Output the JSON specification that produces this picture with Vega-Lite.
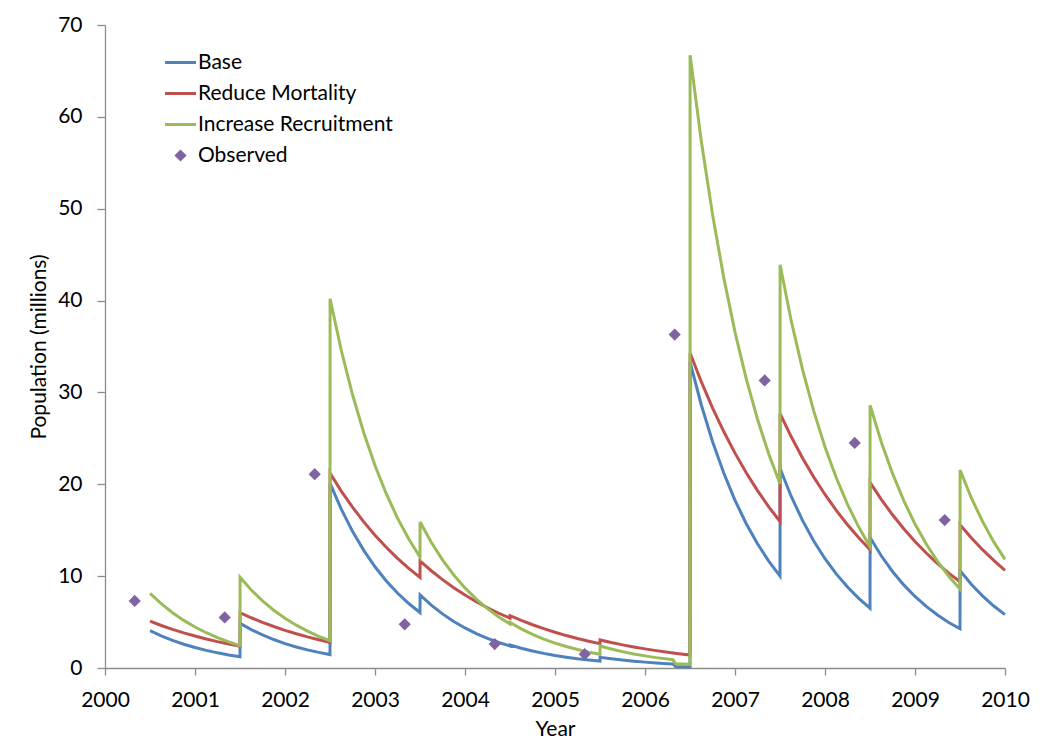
{
  "$schema": "https://vega.github.io/schema/vega-lite/v6.json",
  "width": 900,
  "height": 643,
  "autosize": "none",
  "padding": {"left": 105, "top": 25, "right": 35, "bottom": 73},
  "background": "white",
  "config": {
    "view": {"stroke": null},
    "font": "Lato",
    "axis": {"grid": false, "domainColor": "#8c8c8c", "tickColor": "#8c8c8c", "domainWidth": 1.3, "tickWidth": 1.3,
      "labelFont": "Lato", "labelFontSize": 21, "labelColor": "#000000", "titleFont": "Lato", "titleFontSize": 21, "titleFontWeight": "normal", "titleColor": "#000000"}
  },
  "datasets": {
    "model": [
      {"series":"Base","year":2000.5,"pop":4.07},{"series":"Base","year":2000.625,"pop":3.50},{"series":"Base","year":2000.75,"pop":3.01},{"series":"Base","year":2000.875,"pop":2.59},{"series":"Base","year":2001,"pop":2.23},{"series":"Base","year":2001.125,"pop":1.92},{"series":"Base","year":2001.25,"pop":1.65},{"series":"Base","year":2001.375,"pop":1.42},{"series":"Base","year":2001.5,"pop":1.22},
      {"series":"Base","year":2001.501,"pop":4.86},{"series":"Base","year":2001.625,"pop":4.18},{"series":"Base","year":2001.75,"pop":3.60},{"series":"Base","year":2001.875,"pop":3.10},{"series":"Base","year":2002,"pop":2.66},{"series":"Base","year":2002.125,"pop":2.29},{"series":"Base","year":2002.25,"pop":1.97},{"series":"Base","year":2002.375,"pop":1.70},{"series":"Base","year":2002.5,"pop":1.46},
      {"series":"Base","year":2002.501,"pop":20.1},{"series":"Base","year":2002.625,"pop":17.30},{"series":"Base","year":2002.75,"pop":14.88},{"series":"Base","year":2002.875,"pop":12.81},{"series":"Base","year":2003,"pop":11.02},{"series":"Base","year":2003.125,"pop":9.48},{"series":"Base","year":2003.25,"pop":8.16},{"series":"Base","year":2003.375,"pop":7.02},{"series":"Base","year":2003.5,"pop":6.04},
      {"series":"Base","year":2003.501,"pop":7.95},{"series":"Base","year":2003.625,"pop":6.84},{"series":"Base","year":2003.75,"pop":5.89},{"series":"Base","year":2003.875,"pop":5.07},{"series":"Base","year":2004,"pop":4.36},{"series":"Base","year":2004.125,"pop":3.75},{"series":"Base","year":2004.25,"pop":3.23},{"series":"Base","year":2004.375,"pop":2.78},{"series":"Base","year":2004.5,"pop":2.39},
      {"series":"Base","year":2004.501,"pop":2.5},{"series":"Base","year":2004.625,"pop":2.15},{"series":"Base","year":2004.75,"pop":1.85},{"series":"Base","year":2004.875,"pop":1.59},{"series":"Base","year":2005,"pop":1.37},{"series":"Base","year":2005.125,"pop":1.18},{"series":"Base","year":2005.25,"pop":1.01},{"series":"Base","year":2005.375,"pop":0.87},{"series":"Base","year":2005.5,"pop":0.75},
      {"series":"Base","year":2005.501,"pop":1.16},{"series":"Base","year":2005.625,"pop":1.00},{"series":"Base","year":2005.75,"pop":0.86},{"series":"Base","year":2005.875,"pop":0.74},{"series":"Base","year":2006,"pop":0.64},{"series":"Base","year":2006.125,"pop":0.55},{"series":"Base","year":2006.25,"pop":0.47},{"series":"Base","year":2006.31,"pop":0.44},{"series":"Base","year":2006.34,"pop":0.15},{"series":"Base","year":2006.5,"pop":0.12},
      {"series":"Base","year":2006.501,"pop":33.3},{"series":"Base","year":2006.625,"pop":28.66},{"series":"Base","year":2006.75,"pop":24.66},{"series":"Base","year":2006.875,"pop":21.22},{"series":"Base","year":2007,"pop":18.26},{"series":"Base","year":2007.125,"pop":15.71},{"series":"Base","year":2007.25,"pop":13.52},{"series":"Base","year":2007.375,"pop":11.63},{"series":"Base","year":2007.5,"pop":10.01},
      {"series":"Base","year":2007.501,"pop":21.7},{"series":"Base","year":2007.625,"pop":18.67},{"series":"Base","year":2007.75,"pop":16.07},{"series":"Base","year":2007.875,"pop":13.83},{"series":"Base","year":2008,"pop":11.90},{"series":"Base","year":2008.125,"pop":10.24},{"series":"Base","year":2008.25,"pop":8.81},{"series":"Base","year":2008.375,"pop":7.58},{"series":"Base","year":2008.5,"pop":6.52},
      {"series":"Base","year":2008.501,"pop":14.2},{"series":"Base","year":2008.625,"pop":12.22},{"series":"Base","year":2008.75,"pop":10.51},{"series":"Base","year":2008.875,"pop":9.05},{"series":"Base","year":2009,"pop":7.79},{"series":"Base","year":2009.125,"pop":6.70},{"series":"Base","year":2009.25,"pop":5.77},{"series":"Base","year":2009.375,"pop":4.96},{"series":"Base","year":2009.5,"pop":4.27},
      {"series":"Base","year":2009.501,"pop":10.6},{"series":"Base","year":2009.625,"pop":9.12},{"series":"Base","year":2009.75,"pop":7.85},{"series":"Base","year":2009.875,"pop":6.75},{"series":"Base","year":2010,"pop":5.81},

      {"series":"Reduce Mortality","year":2000.5,"pop":5.1},{"series":"Reduce Mortality","year":2000.625,"pop":4.63},{"series":"Reduce Mortality","year":2000.75,"pop":4.21},{"series":"Reduce Mortality","year":2000.875,"pop":3.83},{"series":"Reduce Mortality","year":2001,"pop":3.48},{"series":"Reduce Mortality","year":2001.125,"pop":3.16},{"series":"Reduce Mortality","year":2001.25,"pop":2.87},{"series":"Reduce Mortality","year":2001.375,"pop":2.61},{"series":"Reduce Mortality","year":2001.5,"pop":2.37},
      {"series":"Reduce Mortality","year":2001.501,"pop":6.02},{"series":"Reduce Mortality","year":2001.625,"pop":5.47},{"series":"Reduce Mortality","year":2001.75,"pop":4.97},{"series":"Reduce Mortality","year":2001.875,"pop":4.52},{"series":"Reduce Mortality","year":2002,"pop":4.10},{"series":"Reduce Mortality","year":2002.125,"pop":3.73},{"series":"Reduce Mortality","year":2002.25,"pop":3.39},{"series":"Reduce Mortality","year":2002.375,"pop":3.08},{"series":"Reduce Mortality","year":2002.5,"pop":2.80},
      {"series":"Reduce Mortality","year":2002.501,"pop":21.2},{"series":"Reduce Mortality","year":2002.625,"pop":19.26},{"series":"Reduce Mortality","year":2002.75,"pop":17.51},{"series":"Reduce Mortality","year":2002.875,"pop":15.91},{"series":"Reduce Mortality","year":2003,"pop":14.46},{"series":"Reduce Mortality","year":2003.125,"pop":13.14},{"series":"Reduce Mortality","year":2003.25,"pop":11.94},{"series":"Reduce Mortality","year":2003.375,"pop":10.85},{"series":"Reduce Mortality","year":2003.5,"pop":9.86},
      {"series":"Reduce Mortality","year":2003.501,"pop":11.65},{"series":"Reduce Mortality","year":2003.625,"pop":10.59},{"series":"Reduce Mortality","year":2003.75,"pop":9.62},{"series":"Reduce Mortality","year":2003.875,"pop":8.74},{"series":"Reduce Mortality","year":2004,"pop":7.94},{"series":"Reduce Mortality","year":2004.125,"pop":7.22},{"series":"Reduce Mortality","year":2004.25,"pop":6.56},{"series":"Reduce Mortality","year":2004.375,"pop":5.96},{"series":"Reduce Mortality","year":2004.5,"pop":5.42},
      {"series":"Reduce Mortality","year":2004.501,"pop":5.7},{"series":"Reduce Mortality","year":2004.625,"pop":5.18},{"series":"Reduce Mortality","year":2004.75,"pop":4.71},{"series":"Reduce Mortality","year":2004.875,"pop":4.28},{"series":"Reduce Mortality","year":2005,"pop":3.89},{"series":"Reduce Mortality","year":2005.125,"pop":3.53},{"series":"Reduce Mortality","year":2005.25,"pop":3.21},{"series":"Reduce Mortality","year":2005.375,"pop":2.92},{"series":"Reduce Mortality","year":2005.5,"pop":2.65},
      {"series":"Reduce Mortality","year":2005.501,"pop":3.05},{"series":"Reduce Mortality","year":2005.625,"pop":2.77},{"series":"Reduce Mortality","year":2005.75,"pop":2.52},{"series":"Reduce Mortality","year":2005.875,"pop":2.29},{"series":"Reduce Mortality","year":2006,"pop":2.08},{"series":"Reduce Mortality","year":2006.125,"pop":1.89},{"series":"Reduce Mortality","year":2006.25,"pop":1.72},{"series":"Reduce Mortality","year":2006.375,"pop":1.56},{"series":"Reduce Mortality","year":2006.5,"pop":1.42},
      {"series":"Reduce Mortality","year":2006.501,"pop":34.3},{"series":"Reduce Mortality","year":2006.625,"pop":31.17},{"series":"Reduce Mortality","year":2006.75,"pop":28.32},{"series":"Reduce Mortality","year":2006.875,"pop":25.74},{"series":"Reduce Mortality","year":2007,"pop":23.39},{"series":"Reduce Mortality","year":2007.125,"pop":21.25},{"series":"Reduce Mortality","year":2007.25,"pop":19.31},{"series":"Reduce Mortality","year":2007.375,"pop":17.55},{"series":"Reduce Mortality","year":2007.5,"pop":15.95},
      {"series":"Reduce Mortality","year":2007.501,"pop":27.7},{"series":"Reduce Mortality","year":2007.625,"pop":25.17},{"series":"Reduce Mortality","year":2007.75,"pop":22.87},{"series":"Reduce Mortality","year":2007.875,"pop":20.78},{"series":"Reduce Mortality","year":2008,"pop":18.89},{"series":"Reduce Mortality","year":2008.125,"pop":17.16},{"series":"Reduce Mortality","year":2008.25,"pop":15.60},{"series":"Reduce Mortality","year":2008.375,"pop":14.17},{"series":"Reduce Mortality","year":2008.5,"pop":12.88},
      {"series":"Reduce Mortality","year":2008.501,"pop":20.2},{"series":"Reduce Mortality","year":2008.625,"pop":18.36},{"series":"Reduce Mortality","year":2008.75,"pop":16.68},{"series":"Reduce Mortality","year":2008.875,"pop":15.16},{"series":"Reduce Mortality","year":2009,"pop":13.77},{"series":"Reduce Mortality","year":2009.125,"pop":12.52},{"series":"Reduce Mortality","year":2009.25,"pop":11.37},{"series":"Reduce Mortality","year":2009.375,"pop":10.33},{"series":"Reduce Mortality","year":2009.5,"pop":9.39},
      {"series":"Reduce Mortality","year":2009.501,"pop":15.6},{"series":"Reduce Mortality","year":2009.625,"pop":14.18},{"series":"Reduce Mortality","year":2009.75,"pop":12.88},{"series":"Reduce Mortality","year":2009.875,"pop":11.71},{"series":"Reduce Mortality","year":2010,"pop":10.64},

      {"series":"Increase Recruitment","year":2000.5,"pop":8.13},{"series":"Increase Recruitment","year":2000.625,"pop":7.00},{"series":"Increase Recruitment","year":2000.75,"pop":6.02},{"series":"Increase Recruitment","year":2000.875,"pop":5.18},{"series":"Increase Recruitment","year":2001,"pop":4.46},{"series":"Increase Recruitment","year":2001.125,"pop":3.84},{"series":"Increase Recruitment","year":2001.25,"pop":3.30},{"series":"Increase Recruitment","year":2001.375,"pop":2.84},{"series":"Increase Recruitment","year":2001.5,"pop":2.44},
      {"series":"Increase Recruitment","year":2001.501,"pop":9.87},{"series":"Increase Recruitment","year":2001.625,"pop":8.49},{"series":"Increase Recruitment","year":2001.75,"pop":7.31},{"series":"Increase Recruitment","year":2001.875,"pop":6.29},{"series":"Increase Recruitment","year":2002,"pop":5.41},{"series":"Increase Recruitment","year":2002.125,"pop":4.66},{"series":"Increase Recruitment","year":2002.25,"pop":4.01},{"series":"Increase Recruitment","year":2002.375,"pop":3.45},{"series":"Increase Recruitment","year":2002.5,"pop":2.97},
      {"series":"Increase Recruitment","year":2002.501,"pop":40.2},{"series":"Increase Recruitment","year":2002.625,"pop":34.59},{"series":"Increase Recruitment","year":2002.75,"pop":29.77},{"series":"Increase Recruitment","year":2002.875,"pop":25.61},{"series":"Increase Recruitment","year":2003,"pop":22.04},{"series":"Increase Recruitment","year":2003.125,"pop":18.97},{"series":"Increase Recruitment","year":2003.25,"pop":16.32},{"series":"Increase Recruitment","year":2003.375,"pop":14.04},{"series":"Increase Recruitment","year":2003.5,"pop":12.08},
      {"series":"Increase Recruitment","year":2003.501,"pop":15.9},{"series":"Increase Recruitment","year":2003.625,"pop":13.68},{"series":"Increase Recruitment","year":2003.75,"pop":11.77},{"series":"Increase Recruitment","year":2003.875,"pop":10.13},{"series":"Increase Recruitment","year":2004,"pop":8.72},{"series":"Increase Recruitment","year":2004.125,"pop":7.50},{"series":"Increase Recruitment","year":2004.25,"pop":6.46},{"series":"Increase Recruitment","year":2004.375,"pop":5.55},{"series":"Increase Recruitment","year":2004.5,"pop":4.78},
      {"series":"Increase Recruitment","year":2004.501,"pop":4.95},{"series":"Increase Recruitment","year":2004.625,"pop":4.26},{"series":"Increase Recruitment","year":2004.75,"pop":3.67},{"series":"Increase Recruitment","year":2004.875,"pop":3.15},{"series":"Increase Recruitment","year":2005,"pop":2.71},{"series":"Increase Recruitment","year":2005.125,"pop":2.34},{"series":"Increase Recruitment","year":2005.25,"pop":2.01},{"series":"Increase Recruitment","year":2005.375,"pop":1.73},{"series":"Increase Recruitment","year":2005.5,"pop":1.49},
      {"series":"Increase Recruitment","year":2005.501,"pop":2.4},{"series":"Increase Recruitment","year":2005.625,"pop":2.07},{"series":"Increase Recruitment","year":2005.75,"pop":1.78},{"series":"Increase Recruitment","year":2005.875,"pop":1.53},{"series":"Increase Recruitment","year":2006,"pop":1.32},{"series":"Increase Recruitment","year":2006.125,"pop":1.13},{"series":"Increase Recruitment","year":2006.25,"pop":0.97},{"series":"Increase Recruitment","year":2006.31,"pop":0.90},{"series":"Increase Recruitment","year":2006.34,"pop":0.45},{"series":"Increase Recruitment","year":2006.5,"pop":0.40},
      {"series":"Increase Recruitment","year":2006.501,"pop":66.7},{"series":"Increase Recruitment","year":2006.625,"pop":57.40},{"series":"Increase Recruitment","year":2006.75,"pop":49.39},{"series":"Increase Recruitment","year":2006.875,"pop":42.50},{"series":"Increase Recruitment","year":2007,"pop":36.57},{"series":"Increase Recruitment","year":2007.125,"pop":31.47},{"series":"Increase Recruitment","year":2007.25,"pop":27.08},{"series":"Increase Recruitment","year":2007.375,"pop":23.30},{"series":"Increase Recruitment","year":2007.5,"pop":20.05},
      {"series":"Increase Recruitment","year":2007.501,"pop":43.9},{"series":"Increase Recruitment","year":2007.625,"pop":37.78},{"series":"Increase Recruitment","year":2007.75,"pop":32.51},{"series":"Increase Recruitment","year":2007.875,"pop":27.97},{"series":"Increase Recruitment","year":2008,"pop":24.07},{"series":"Increase Recruitment","year":2008.125,"pop":20.71},{"series":"Increase Recruitment","year":2008.25,"pop":17.82},{"series":"Increase Recruitment","year":2008.375,"pop":15.34},{"series":"Increase Recruitment","year":2008.5,"pop":13.20},
      {"series":"Increase Recruitment","year":2008.501,"pop":28.6},{"series":"Increase Recruitment","year":2008.625,"pop":24.61},{"series":"Increase Recruitment","year":2008.75,"pop":21.18},{"series":"Increase Recruitment","year":2008.875,"pop":18.22},{"series":"Increase Recruitment","year":2009,"pop":15.68},{"series":"Increase Recruitment","year":2009.125,"pop":13.49},{"series":"Increase Recruitment","year":2009.25,"pop":11.61},{"series":"Increase Recruitment","year":2009.375,"pop":9.99},{"series":"Increase Recruitment","year":2009.5,"pop":8.60},
      {"series":"Increase Recruitment","year":2009.501,"pop":21.55},{"series":"Increase Recruitment","year":2009.625,"pop":18.54},{"series":"Increase Recruitment","year":2009.75,"pop":15.96},{"series":"Increase Recruitment","year":2009.875,"pop":13.73},{"series":"Increase Recruitment","year":2010,"pop":11.82}
    ],
    "observed": [
      {"series":"Observed","year":2000.33,"pop":7.3},
      {"series":"Observed","year":2001.33,"pop":5.5},
      {"series":"Observed","year":2002.33,"pop":21.1},
      {"series":"Observed","year":2003.33,"pop":4.75},
      {"series":"Observed","year":2004.33,"pop":2.6},
      {"series":"Observed","year":2005.33,"pop":1.5},
      {"series":"Observed","year":2006.33,"pop":36.3},
      {"series":"Observed","year":2007.33,"pop":31.3},
      {"series":"Observed","year":2008.33,"pop":24.5},
      {"series":"Observed","year":2009.33,"pop":16.1}
    ]
  },
  "encoding": {
    "x": {"field": "year", "type": "quantitative", "title": "Year",
      "scale": {"domain": [2000, 2010], "nice": false, "zero": false},
      "axis": {"values": [2000,2001,2002,2003,2004,2005,2006,2007,2008,2009,2010], "format": "d", "tickSize": 7, "labelPadding": 14, "titlePadding": 8, "labelFlush": false}},
    "y": {"field": "pop", "type": "quantitative", "title": "Population (millions)",
      "scale": {"domain": [0, 70], "nice": false},
      "axis": {"values": [0,10,20,30,40,50,60,70], "tickSize": 8, "labelPadding": 15, "titlePadding": 8}},
    "color": {"field": "series", "type": "nominal",
      "scale": {"domain": ["Base", "Reduce Mortality", "Increase Recruitment", "Observed"], "range": ["#4F81BD", "#C0504D", "#9BBB59", "#8064A2"]},
      "legend": {
        "orient": "none", "legendX": 65, "legendY": 27, "title": null, "padding": 0,
        "symbolType": "stroke", "symbolSize": 960, "symbolStrokeWidth": 3,
        "labelFont": "Lato", "labelFontSize": 21, "labelColor": "#000000", "labelOffset": 7, "labelLimit": 400, "rowPadding": 9,
        "encode": {"symbols": {"update": {
          "shape": {"signal": "datum.value === 'Observed' ? 'diamond' : 'stroke'"},
          "size": {"signal": "datum.value === 'Observed' ? 150 : 960"},
          "fill": {"signal": "datum.value === 'Observed' ? '#8064A2' : 'transparent'"},
          "strokeWidth": {"signal": "datum.value === 'Observed' ? 0 : 3"}
        }}}
      }}
  },
  "layer": [
    {"data": {"name": "model"}, "transform": [{"filter": "datum.series === 'Base'"}], "mark": {"type": "line", "strokeWidth": 3}},
    {"data": {"name": "model"}, "transform": [{"filter": "datum.series === 'Reduce Mortality'"}], "mark": {"type": "line", "strokeWidth": 3}},
    {"data": {"name": "model"}, "transform": [{"filter": "datum.series === 'Increase Recruitment'"}], "mark": {"type": "line", "strokeWidth": 3}},
    {"data": {"name": "observed"}, "mark": {"type": "point", "shape": "diamond", "filled": true, "size": 150, "opacity": 1}}
  ]
}
